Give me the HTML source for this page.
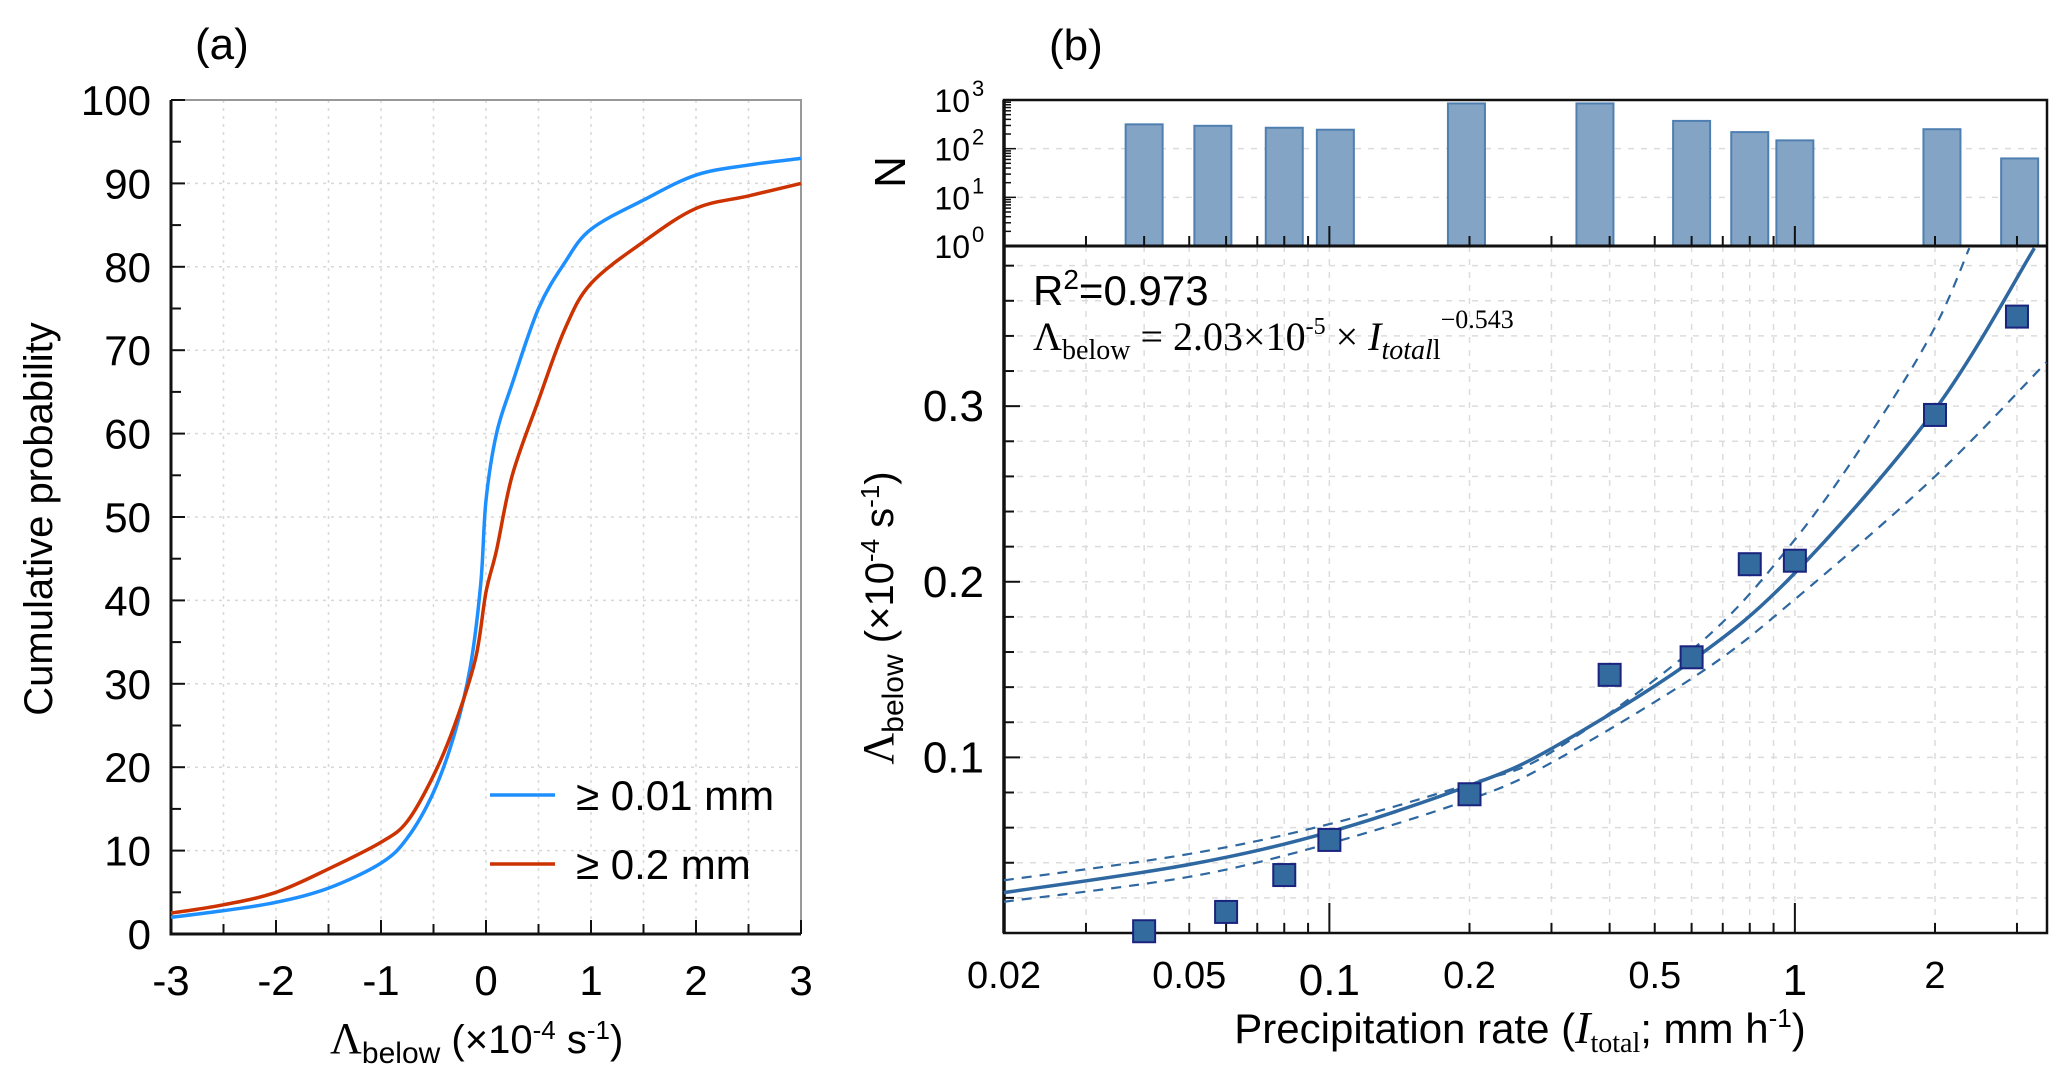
<!DOCTYPE html>
<html><head><meta charset="utf-8">
<style>
html,body{margin:0;padding:0;background:#fff;}
svg{display:block;font-family:"Liberation Sans",Arial,sans-serif;}
</style></head>
<body>
<svg id="fig" width="2067" height="1082" viewBox="0 0 2067 1082" xmlns="http://www.w3.org/2000/svg">
  <g id="pa"></g>
  <g id="pb"></g>
</svg>
<script>
// ---------- Panel (a) data ----------
const cdfX_blue = [-3,-2.5,-2,-1.5,-1,-0.75,-0.5,-0.3,-0.15,-0.05,0,0.1,0.25,0.5,0.75,1,1.5,2,2.5,3];
const cdfY_blue = [2,2.8,3.8,5.5,8.5,11.5,17,24,32,42,52,60,66,75,80.5,84.5,88,91,92.2,93];
const cdfX_red  = [-3,-2.5,-2,-1.5,-1,-0.75,-0.5,-0.3,-0.1,0,0.1,0.25,0.5,0.75,1,1.5,2,2.5,3];
const cdfY_red  = [2.5,3.5,5,7.8,11,13.5,19,25,33,41,46,55,64,72.5,78,83,87,88.5,90];
const aXTicks = [-3,-2,-1,0,1,2,3];
const aYTicks = [0,10,20,30,40,50,60,70,80,90,100];

// ---------- Panel (b) data ----------
const rateX   = [0.04,0.06,0.08,0.1,0.2,0.4,0.6,0.8,1,2,3];
const lambdaY = [0.001,0.012,0.033,0.053,0.079,0.147,0.157,0.210,0.212,0.295,0.351];
const barX    = [0.04,0.0562,0.08,0.103,0.197,0.372,0.6,0.8,1,2.07,3.04];
const countN  = [316,295,269,245,850,850,372,219,148,251,63];
const fitX    = [0.02,0.05,0.1,0.2,0.3,0.6,1,2,3.27];
const fitY    = [0.023,0.039,0.0575,0.084,0.105,0.155,0.205,0.298,0.39];
const upX     = [0.02,0.05,0.1,0.2,0.3,0.625,1,1.5,2,2.37];
const upY     = [0.030,0.045,0.062,0.085,0.103,0.165,0.224,0.29,0.345,0.39];
const loX     = [0.02,0.05,0.1,0.2,0.3,0.625,1,2,3.47];
const loY     = [0.0178,0.032,0.051,0.076,0.097,0.148,0.19,0.26,0.325];
const bXTicks = [0.02,0.05,0.1,0.2,0.5,1,2];
const bXLabels= ["0.02","0.05","0.1","0.2","0.5","1","2"];
const bYTicks = [0.1,0.2,0.3];
const hYTicks = [0,1,2,3];

const NS="http://www.w3.org/2000/svg";
function mk(parent,tag,attrs,text){const e=document.createElementNS(NS,tag);for(const k in attrs)e.setAttribute(k,attrs[k]);if(text!==undefined)e.textContent=text;parent.appendChild(e);return e;}
function smooth(pts){let d="M"+pts[0][0]+","+pts[0][1];for(let i=0;i<pts.length-1;i++){const p0=pts[Math.max(0,i-1)],p1=pts[i],p2=pts[i+1],p3=pts[Math.min(pts.length-1,i+2)];const c1=[p1[0]+(p2[0]-p0[0])/6,p1[1]+(p2[1]-p0[1])/6],c2=[p2[0]-(p3[0]-p1[0])/6,p2[1]-(p3[1]-p1[1])/6];d+=" C"+c1[0]+","+c1[1]+" "+c2[0]+","+c2[1]+" "+p2[0]+","+p2[1];}return d;}

// ===== Panel A =====
const A={l:171,r:801,t:100,b:934};
const ax=v=>A.l+(v+3)/6*(A.r-A.l);
const ay=v=>A.b-v/100*(A.b-A.t);
const pa=document.getElementById('pa');
for(let v=-2.5;v<3;v+=0.5){const g=mk(pa,'line',{x1:ax(v),x2:ax(v),y1:A.t,y2:A.b,stroke:'#d8d8d8','stroke-width':1.5,'stroke-dasharray':'3,5'});}
for(let v=10;v<100;v+=10){const g=mk(pa,'line',{x1:A.l,x2:A.r,y1:ay(v),y2:ay(v),stroke:'#d8d8d8','stroke-width':1.5,'stroke-dasharray':'3,5'});}
let fr=mk(pa,'path',{d:`M${A.l},${A.t} H${A.r} V${A.b}`,fill:'none',stroke:'#999','stroke-width':2});

let axl=mk(pa,'path',{d:`M${A.l},${A.t} V${A.b} H${A.r}`,fill:'none',stroke:'#111','stroke-width':3});

for(let v=-3;v<=3.001;v+=0.5){const len=(Math.abs(v-Math.round(v))<0.01)?14:10;mk(pa,'line',{x1:ax(v),x2:ax(v),y1:A.b,y2:A.b-len,stroke:'#111','stroke-width':2});}
for(let v=0;v<=100;v+=5){const len=(v%10===0)?14:10;mk(pa,'line',{x1:A.l,x2:A.l+len,y1:ay(v),y2:ay(v),stroke:'#111','stroke-width':2});}
aXTicks.forEach(v=>{const t=mk(pa,'text',{x:ax(v),y:995,'font-size':42,'text-anchor':'middle'},String(v));});
aYTicks.forEach(v=>{const t=mk(pa,'text',{x:151,y:ay(v)+15,'font-size':42,'text-anchor':'end'},String(v));});
const bl=mk(pa,'path',{d:smooth(cdfX_blue.map((x,i)=>[ax(x),ay(cdfY_blue[i])])),fill:'none',stroke:'#1e8fff','stroke-width':3.5});

const rd=mk(pa,'path',{d:smooth(cdfX_red.map((x,i)=>[ax(x),ay(cdfY_red[i])])),fill:'none',stroke:'#cc3300','stroke-width':3.5});

const lg=mk(pa,'g',{});
mk(lg,'line',{x1:490,x2:555,y1:795,y2:795,stroke:'#1e8fff','stroke-width':3.5});
mk(lg,'text',{x:576,y:810,'font-size':42},'\u2265 0.01 mm');
mk(lg,'line',{x1:490,x2:555,y1:864,y2:864,stroke:'#cc3300','stroke-width':3.5});
mk(lg,'text',{x:576,y:879,'font-size':42},'\u2265 0.2 mm');
let t;
t=mk(pa,'text',{x:195,y:59,'font-size':44},'(a)');
t=mk(pa,'text',{x:0,y:0,'font-size':40,'text-anchor':'middle',transform:'translate(52,519) rotate(-90)'},'Cumulative probability');
t=mk(pa,'text',{x:330,y:1053,'font-size':40});
t.innerHTML='<tspan font-family="Liberation Serif,serif" font-size="44">\u039B</tspan><tspan font-size="30" dy="10">below</tspan><tspan dy="-10"> (\u00D710</tspan><tspan font-size="26" dy="-14">-4</tspan><tspan dy="14"> s</tspan><tspan font-size="26" dy="-14">-1</tspan><tspan dy="14">)</tspan>';

// ===== Panel B =====
const B={l:1004,r:2047,t:246,b:933,ht:100};
const L0=Math.log10(0.02), DEC=465.5;
const bx=v=>B.l+(Math.log10(v)-L0)*DEC;
const by=v=>B.b-v/0.3912*(B.b-B.t);
const hy=v=>B.t-Math.log10(v)/3*(B.t-B.ht);
const pb=document.getElementById('pb');
const minors=[];for(let d=-2;d<=0;d++)for(let m=1;m<10;m++){const v=m*Math.pow(10,d);if(v>=0.02&&bx(v)<B.r)minors.push(v);}
minors.forEach(v=>{if(v>0.0201){const g=mk(pb,'line',{x1:bx(v),x2:bx(v),y1:B.t,y2:B.b,stroke:'#dcdcdc','stroke-width':1.5,'stroke-dasharray':'6,7'});}});
for(let v=0.02;v<0.39;v+=0.02){const g=mk(pb,'line',{x1:B.l,x2:B.r,y1:by(v),y2:by(v),stroke:'#dcdcdc','stroke-width':1.5,'stroke-dasharray':'6,7'});}
[1,2].forEach(e=>{mk(pb,'line',{x1:B.l,x2:B.r,y1:hy(Math.pow(10,e)),y2:hy(Math.pow(10,e)),stroke:'#dcdcdc','stroke-width':1.5,'stroke-dasharray':'6,7'});});
countN.forEach((n,i)=>{const cx=bx(barX[i]);const r=mk(pb,'rect',{x:cx-18.5,y:hy(n),width:37,height:B.t-hy(n),fill:'#84a4c6',stroke:'#4f7fb0','stroke-width':2});
});
fr=mk(pb,'rect',{x:B.l,y:B.ht,width:B.r-B.l,height:B.b-B.ht,fill:'none',stroke:'#111','stroke-width':2.5});

mk(pb,'line',{x1:B.l,x2:B.r,y1:B.t,y2:B.t,stroke:'#111','stroke-width':3});
mk(pb,'line',{x1:B.l,x2:B.l,y1:B.ht,y2:B.b,stroke:'#111','stroke-width':3.5});
minors.forEach(v=>{const major=[0.1,1].some(m=>Math.abs(v-m)<1e-9);
mk(pb,'line',{x1:bx(v),x2:bx(v),y1:B.b,y2:B.b-(major?30:10),stroke:'#111','stroke-width':2});
mk(pb,'line',{x1:bx(v),x2:bx(v),y1:B.t,y2:B.t-(major?20:10),stroke:'#111','stroke-width':2});});
for(let v=0.02;v<0.39;v+=0.02){const major=Math.abs(v*10-Math.round(v*10))<1e-6;mk(pb,'line',{x1:B.l,x2:B.l+(major?16:10),y1:by(v),y2:by(v),stroke:'#111','stroke-width':2});}
for(let e=0;e<3;e++){for(let m=1;m<10;m++){const v=m*Math.pow(10,e);mk(pb,'line',{x1:B.l,x2:B.l+(m===1?12:7),y1:hy(v),y2:hy(v),stroke:'#111','stroke-width':1.5});}}
bXTicks.forEach((v,i)=>{const big=(bXLabels[i]==="0.1"||bXLabels[i]==="1");const t=mk(pb,'text',{x:bx(v),y:big?995:988,'font-size':big?44:38,'text-anchor':'middle'},bXLabels[i]);});
bYTicks.forEach(v=>{const t=mk(pb,'text',{x:984,y:by(v)+15,'font-size':44,'text-anchor':'end'},String(v));});
hYTicks.forEach(e=>{const t=mk(pb,'text',{x:970,y:hy(Math.pow(10,e))+12,'font-size':32,'text-anchor':'end'},'10');
mk(pb,'text',{x:972,y:hy(Math.pow(10,e))-4,'font-size':22},String(e));});
const mkCurve=(xs,ys,dash,name)=>{const p=mk(pb,'path',{d:smooth(xs.map((x,i)=>[bx(x),by(ys[i])])),fill:'none',stroke:'#2f68a0','stroke-width':dash?2.2:3.5});if(dash)p.setAttribute('stroke-dasharray','10,8');};
mkCurve(upX,upY,true,'upper-bound-line');
mkCurve(loX,loY,true,'lower-bound-line');
mkCurve(fitX,fitY,false,'fit-line');
rateX.forEach((x,i)=>{const s=mk(pb,'rect',{x:bx(x)-11,y:by(lambdaY[i])-11,width:22,height:22,fill:'#336b9e',stroke:'#1a237e','stroke-width':2});});
t=mk(pb,'text',{x:1049,y:60,'font-size':44},'(b)');
t=mk(pb,'text',{x:1033,y:305,'font-size':42});
t.innerHTML='R<tspan font-size="28" dy="-16">2</tspan><tspan dy="16">=0.973</tspan>';
t=mk(pb,'text',{x:1033,y:350,'font-size':40,'font-family':'Liberation Serif,serif'});
t.innerHTML='\u039B<tspan font-size="28" dy="9">below</tspan><tspan dy="-9"> = 2.03\u00D710</tspan><tspan font-size="24" dy="-16">-5</tspan><tspan dy="16"> \u00D7 </tspan><tspan font-style="italic">I</tspan><tspan font-size="28" dy="9" font-style="italic">total</tspan><tspan font-size="28">l</tspan><tspan font-size="26" dy="-31">\u22120.543</tspan>';
t=mk(pb,'text',{x:0,y:0,'font-size':40,'text-anchor':'middle',transform:'translate(893,618) rotate(-90)'});
t.innerHTML='<tspan font-family="Liberation Serif,serif" font-size="44">\u039B</tspan><tspan font-size="30" dy="10">below</tspan><tspan dy="-10"> (\u00D710</tspan><tspan font-size="26" dy="-14">-4</tspan><tspan dy="14"> s</tspan><tspan font-size="26" dy="-14">-1</tspan><tspan dy="14">)</tspan>';
t=mk(pb,'text',{x:0,y:0,'font-size':44,'text-anchor':'middle',transform:'translate(905,172) rotate(-90)'},'N');
t=mk(pb,'text',{x:1520,y:1043,'font-size':42,'text-anchor':'middle'});
t.innerHTML='Precipitation rate (<tspan font-family="Liberation Serif,serif" font-style="italic" font-size="46">I</tspan><tspan font-family="Liberation Serif,serif" font-size="28" dy="9">total</tspan><tspan dy="-9">; mm h</tspan><tspan font-size="26" dy="-16">-1</tspan><tspan dy="16">)</tspan>';
</script>
</body></html>
